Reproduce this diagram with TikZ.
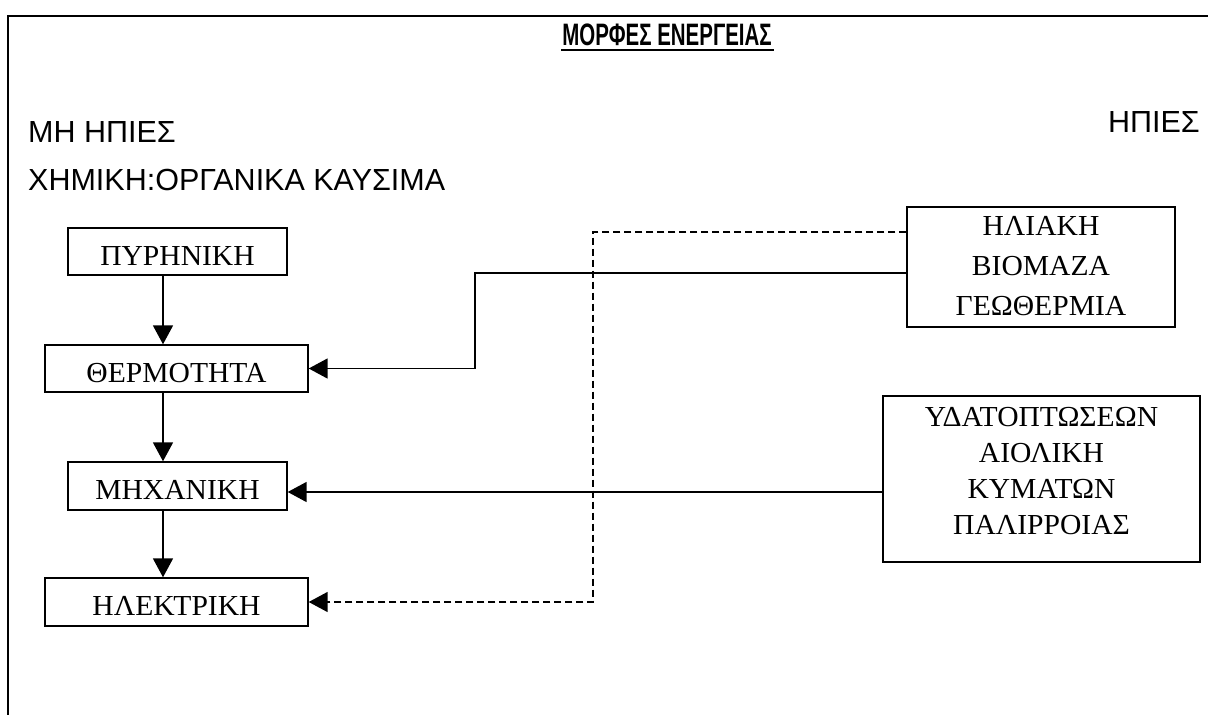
\documentclass[tikz,border=0pt]{standalone}
\usepackage{fontspec}
\setmainfont{Liberation Sans}
\newfontfamily\grserif{Liberation Serif}
\usetikzlibrary{arrows.meta,calc}
\newcommand{\sx}[1]{\scalebox{1.02}[1]{#1}}
\begin{document}
\begin{tikzpicture}[x=1pt,y=-1pt,
  box/.style={draw, line width=1.4pt, inner sep=0pt,
    font=\grserif\fontsize{29}{34}\selectfont, text height=29pt, text depth=2pt},
  bigbox/.style={draw, line width=1.4pt, inner sep=0pt},
  rtext/.style={inner sep=0pt, font=\grserif\fontsize{29}{34}\selectfont},
  lbl/.style={inner sep=0pt, font=\fontsize{30.5}{34}\selectfont},
  arr/.style={line width=1.8pt, -{Triangle[length=19pt,width=20pt]}},
  dashline/.style={line width=1.6pt, dash pattern=on 7pt off 4pt, -{Triangle[length=19pt,width=20pt]}},
  frameline/.style={line width=1.5pt}]
\useasboundingbox (0,0) rectangle (1208,715);
% frame
\coordinate (fbl) at (8,715);
\coordinate (ftl) at (8,16);
\coordinate (ftr) at (1208,16);
\draw[frameline] (fbl) -- (ftl) -- (ftr);
% title
\node[inner sep=0pt, anchor=base, font=\bfseries\fontsize{31}{34}\selectfont] (title) at (667,45) {\scalebox{0.66}[1]{ΜΟΡΦΕΣ ΕΝΕΡΓΕΙΑΣ}};
\draw[line width=1.6pt] ([yshift=-5pt,xshift=-1pt]title.base west) -- ([yshift=-5pt,xshift=2pt]title.base east);
% labels
\node[lbl, anchor=base west] (mh) at (28,142) {ΜΗ ΗΠΙΕΣ};
\node[lbl, anchor=base east] (hp) at (1200,132) {ΗΠΙΕΣ};
\node[lbl, anchor=base west] (xim) at (28,190) {ΧΗΜΙΚΗ:ΟΡΓΑΝΙΚΑ ΚΑΥΣΙΜΑ};
% left boxes
\node[box, minimum width=219pt, minimum height=47pt] (pyr) at (177.5,251.5) {\sx{ΠΥΡΗΝΙΚΗ}};
\node[box, minimum width=263pt, minimum height=47pt] (therm) at (176.5,368.5) {\sx{ΘΕΡΜΟΤΗΤΑ}};
\node[box, minimum width=219pt, minimum height=48pt] (mech) at (177.5,486) {\sx{ΜΗΧΑΝΙΚΗ}};
\node[box, minimum width=263pt, minimum height=48pt] (elek) at (176.5,602) {\sx{ΗΛΕΚΤΡΙΚΗ}};
% right boxes
\node[bigbox, minimum width=268pt, minimum height=120pt] (ilia) at (1041,267) {};
\node[rtext] (iliatxt) at ([yshift=0pt]ilia.center) {\sx{\fontsize{29}{40}\selectfont\begin{tabular}{@{}c@{}}ΗΛΙΑΚΗ\\ ΒΙΟΜΑΖΑ\\ ΓΕΩΘΕΡΜΙΑ\end{tabular}}};
\node[bigbox, minimum width=317pt, minimum height=166pt] (ydat) at (1041.5,479) {};
\node[rtext] (ydattxt) at ([yshift=6pt]ydat.center) {\sx{\fontsize{29}{36}\selectfont\begin{tabular}{@{}c@{}}ΥΔΑΤΟΠΤΩΣΕΩΝ\\ ΑΙΟΛΙΚΗ\\ ΚΥΜΑΤΩΝ\\ ΠΑΛΙΡΡΟΙΑΣ\end{tabular}}};
% vertical arrows
\coordinate (ax) at (163,0);
\draw[arr] (pyr.south -| ax) -- (therm.north -| ax);
\draw[arr] (therm.south -| ax) -- (mech.north -| ax);
\draw[arr] (mech.south -| ax) -- (elek.north -| ax);
% connectors from the right
\coordinate (cx) at (475,0);
\coordinate (dx) at (593,0);
\draw[arr] ([yshift=-6pt]ilia.west) -| (therm.east -| cx) -- (therm.east);
\draw[dashline] ([yshift=35pt]ilia.west) -| (elek.east -| dx) -- (elek.east);
\draw[arr] ([yshift=-13pt]ydat.west) -- ([yshift=-6pt]mech.east);
\end{tikzpicture}
\end{document}
